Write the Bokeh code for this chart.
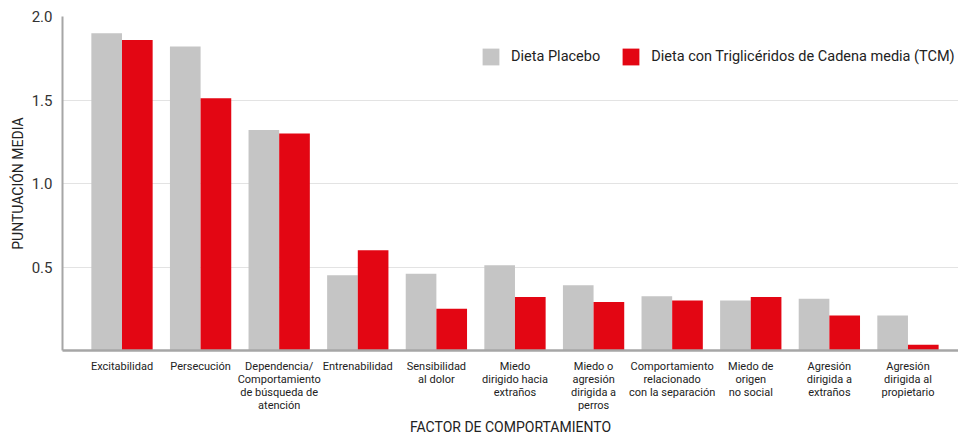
from bokeh.plotting import figure
from bokeh.models import ColumnDataSource, FixedTicker, Range1d, Legend, LegendItem, NumeralTickFormatter
from bokeh.transform import dodge
from bokeh.embed import file_html
from bokeh.resources import INLINE

categories = [
    "Excitabilidad",
    "Persecución",
    "Dependencia/\nComportamiento\nde búsqueda de\natención",
    "Entrenabilidad",
    "Sensibilidad\nal dolor",
    "Miedo\ndirigido hacia\nextraños",
    "Miedo o\nagresión\ndirigida a\nperros",
    "Comportamiento\nrelacionado\ncon la separación",
    "Miedo de\norigen\nno social",
    "Agresión\ndirigida a\nextraños",
    "Agresión\ndirigida al\npropietario",
]
placebo = [1.90, 1.82, 1.32, 0.45, 0.46, 0.51, 0.39, 0.325, 0.30, 0.31, 0.21]
tcm = [1.86, 1.51, 1.30, 0.60, 0.25, 0.32, 0.29, 0.30, 0.32, 0.21, 0.035]
y_ticks = [0.5, 1.0, 1.5, 2.0]
series_names = ["Dieta Placebo", "Dieta con Triglicéridos de Cadena media (TCM)"]

GRAY = "#c5c5c5"
RED = "#e30613"
FONT = "Roboto"

idx = list(range(len(categories)))
src = ColumnDataSource(dict(x=idx, placebo=placebo, tcm=tcm))

p = figure(width=958, height=437, output_backend="svg", toolbar_location=None,
           x_range=Range1d(-0.757, 10.643), y_range=Range1d(0, 2.0),
           min_border_left=62, min_border_top=16, min_border_right=0, min_border_bottom=0)
p.outline_line_color = None
p.background_fill_color = "white"
p.border_fill_color = "white"

r1 = p.vbar(x=dodge("x", -0.195), top="placebo", width=0.39, source=src,
            fill_color=GRAY, line_color=None)
r2 = p.vbar(x=dodge("x", 0.195), top="tcm", width=0.39, source=src,
            fill_color=RED, line_color=None)

# axes
p.xaxis.ticker = FixedTicker(ticks=idx)
p.xaxis.major_label_overrides = {i: c for i, c in zip(idx, categories)}
p.xaxis.major_tick_line_color = None
p.xaxis.minor_tick_line_color = None
p.xaxis.axis_line_color = "#a6a6a6"
p.xaxis.axis_line_width = 2.5
p.xaxis.major_label_text_font = FONT
p.xaxis.major_label_text_font_size = "11px"
p.xaxis.major_label_text_line_height = 1.0
p.xaxis.major_label_text_color = "#222222"
p.xaxis.major_label_standoff = 3
p.xaxis.axis_label = "FACTOR DE COMPORTAMIENTO"
p.xaxis.axis_label_text_font = FONT
p.xaxis.axis_label_text_font_style = "normal"
p.xaxis.axis_label_text_font_size = "14px"
p.xaxis.axis_label_text_color = "#222222"
p.xaxis.axis_label_standoff = 4

p.yaxis.ticker = FixedTicker(ticks=y_ticks)
p.yaxis.formatter = NumeralTickFormatter(format="0.0")
p.yaxis.major_tick_line_color = None
p.yaxis.minor_tick_line_color = None
p.yaxis.axis_line_color = "#a6a6a6"
p.yaxis.axis_line_width = 2
p.yaxis.major_label_text_font = FONT
p.yaxis.major_label_text_font_size = "15px"
p.yaxis.major_label_text_color = "#333333"
p.yaxis.major_label_standoff = 4
p.yaxis.axis_label = "PUNTUACIÓN MEDIA"
p.yaxis.axis_label_text_font = FONT
p.yaxis.axis_label_text_font_style = "normal"
p.yaxis.axis_label_text_font_size = "14px"
p.yaxis.axis_label_text_color = "#222222"
p.yaxis.axis_label_standoff = 3

p.xgrid.grid_line_color = None
p.ygrid.grid_line_color = "#e3e3e3"
p.ygrid.grid_line_width = 1

legend = Legend(items=[LegendItem(label=series_names[0], renderers=[r1]),
                       LegendItem(label=series_names[1], renderers=[r2])],
                orientation="horizontal", location=(418, 283),
                glyph_width=21, glyph_height=21, label_standoff=10, spacing=20,
                padding=0, margin=0,
                label_text_font=FONT, label_text_font_size="14.5px",
                label_text_color="#222222",
                background_fill_alpha=0, border_line_color=None)
p.add_layout(legend, "center")

open("out.html", "w").write(file_html(p, INLINE))
